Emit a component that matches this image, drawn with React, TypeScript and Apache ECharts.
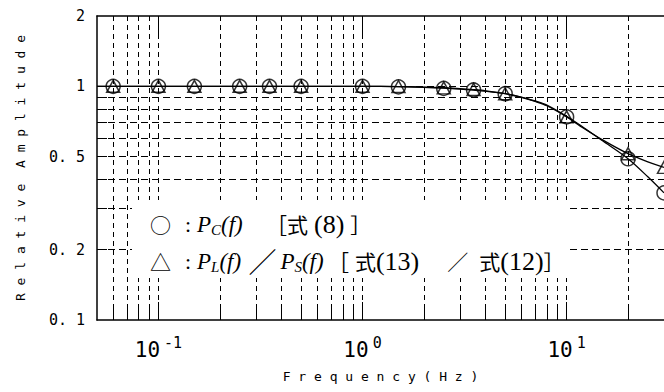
import React, { useEffect, useRef } from "react";
import * as echarts from "echarts";

// Marker data
const freqMarkers = [0.06, 0.1, 0.15, 0.25, 0.35, 0.5, 1, 1.5, 2.5, 3.5, 5, 10, 20, 30];
const pcMarkers = [1, 1, 1, 1, 1, 1, 1, 0.995, 0.98, 0.965, 0.93, 0.74, 0.49, 0.35];
const plpsMarkers = [1, 1, 1, 1, 1, 1, 1, 0.998, 0.985, 0.97, 0.93, 0.74, 0.515, 0.45];

// Theoretical curves
const curveFreq = [0.05, 0.1, 0.2, 0.5, 1, 1.5, 2, 2.5, 3, 3.5, 4, 5, 6, 7, 8, 10, 12, 15, 20, 25, 30];
const pcCurve = [1, 1, 1, 1, 1, 0.997, 0.99, 0.982, 0.973, 0.963, 0.953, 0.93, 0.9, 0.866, 0.832, 0.745, 0.67, 0.585, 0.49, 0.41, 0.35];
const plpsCurve = [1, 1, 1, 1, 1, 0.998, 0.993, 0.986, 0.978, 0.968, 0.957, 0.93, 0.898, 0.862, 0.826, 0.74, 0.665, 0.59, 0.515, 0.475, 0.45];

// Axis ticks / grid
const xGridValues = [0.06, 0.07, 0.08, 0.09, 0.1, 0.2, 0.3, 0.4, 0.5, 0.6, 0.7, 0.8, 0.9, 1, 2, 3, 4, 5, 6, 7, 8, 9, 10, 20, 30];
const xDecades = [0.1, 1, 10];
const yGridValues = [0.2, 0.3, 0.4, 0.5, 0.6, 0.7, 0.8, 0.9, 1];
const yLabelValues = [0.1, 0.2, 0.5, 1, 2];
const yLabelTexts = ["0. 1", "0. 2", "0. 5", "1", "2"];

const xTitle = "F r e q u e n c y ( H z )";
const yTitle = "R e l a t i v e  A m p l i t u d e";

const legendLine1 = "{sym|○}{g6| }{col|:}{i|P}{sub|C}{ip1|(f)}{cjk|［式}{g6| }{n|(8)}{g6| }{cjk|］}";
const legendLine2 =
  "{sym|△}{g6| }{col|:}{i|P}{sub|L}{ip2|(f)}{sl|／}{i|P}{sub|S}{ip3|(f)}{brk|［}{cjk|式}{n|(13)}{sp1| }{cjk|／}{sp2| }{cjk|式}{n|(12)}{cjk|］}";

const mono = "'DejaVu Sans Mono', monospace";
const serif = "'Liberation Serif', serif";
const cjk = "'Noto Sans CJK JP', sans-serif";

export default function App() {
  const ref = useRef<HTMLDivElement>(null);
  useEffect(() => {
    document.body.style.margin = "0";
    if (!ref.current) return;
    const chart = echarts.init(ref.current, null, { renderer: "svg" });
    const xBase = { type: "log", logBase: 10, min: 0.05, max: 30, gridIndex: 0 };
    const it = { fontFamily: serif, fontStyle: "italic", fontSize: 23, lineHeight: 26, color: "#000" };
    const legendRich = {
      sym: { fontFamily: cjk, fontSize: 21, lineHeight: 26, width: 29, color: "#000" },
      g6: { fontFamily: serif, fontSize: 22, lineHeight: 26, width: 6, color: "#000" },
      col: { fontFamily: serif, fontSize: 22, lineHeight: 26, width: 12, color: "#000" },
      n: { fontFamily: serif, fontSize: 26, lineHeight: 26, color: "#000" },
      i: { ...it },
      ip1: { ...it, width: 45 },
      ip2: { ...it, width: 29 },
      ip3: { ...it, width: 26 },
      sub: { fontFamily: serif, fontStyle: "italic", fontSize: 15, lineHeight: 14, verticalAlign: "bottom", color: "#000" },
      cjk: { fontFamily: cjk, fontSize: 21, lineHeight: 26, color: "#000" },
      brk: { fontFamily: cjk, fontSize: 21, lineHeight: 26, width: 27, color: "#000" },
      sl: { fontFamily: cjk, fontSize: 28, lineHeight: 26, width: 32, color: "#000" },
      sp1: { fontFamily: serif, fontSize: 22, lineHeight: 26, width: 28, color: "#000" },
      sp2: { fontFamily: serif, fontSize: 22, lineHeight: 26, width: 11, color: "#000" },
    };
    const option: any = {
      animation: false,
      backgroundColor: "#fff",
      grid: { left: 97, top: 16, right: -6.6, bottom: 72, containLabel: false },
      xAxis: [
        {
          ...xBase,
          position: "bottom",
          axisLine: { show: true, lineStyle: { color: "#000", width: 1.5 } },
          axisTick: { show: true, inside: true, length: 12, customValues: xGridValues, lineStyle: { color: "#000", width: 1 } },
          minorTick: { show: false },
          minorSplitLine: { show: false },
          splitLine: { show: true, lineStyle: { color: "#000", width: 1, type: [5, 4] } },
          axisLabel: {
            customValues: xDecades,
            margin: 18,
            formatter: (v: number) => `{b|10}{s|${Math.round(Math.log10(v))}}`,
            rich: {
              b: { fontFamily: mono, fontSize: 21, lineHeight: 24, color: "#000" },
              s: { fontFamily: mono, fontSize: 15, lineHeight: 14, padding: [0, 0, 14, 4], color: "#000" },
            },
          },
          name: xTitle,
          nameLocation: "middle",
          nameGap: 50,
          nameTextStyle: { fontFamily: mono, fontSize: 13, color: "#000" },
        },
        {
          ...xBase,
          position: "top",
          axisLine: { show: true, lineStyle: { color: "#000", width: 1.5 } },
          axisTick: { show: true, inside: true, length: 22, customValues: xDecades, lineStyle: { color: "#000", width: 1 } },
          axisLabel: { show: false },
          splitLine: { show: false },
        },
        {
          ...xBase,
          position: "bottom",
          axisLine: { show: false },
          axisTick: { show: true, inside: true, length: 18, customValues: xDecades, lineStyle: { color: "#000", width: 1 } },
          axisLabel: { show: false },
          splitLine: { show: false },
        },
      ],
      yAxis: {
        type: "log",
        logBase: 10,
        min: 0.1,
        max: 2,
        axisLine: { show: true, lineStyle: { color: "#000", width: 1.5 } },
        axisTick: { show: true, inside: true, length: 10, customValues: yGridValues, lineStyle: { color: "#000", width: 1 } },
        minorTick: { show: false },
        splitLine: { show: true, lineStyle: { color: "#000", width: 1, type: [7, 4] } },
        axisLabel: {
          customValues: yLabelValues,
          margin: 12,
          fontFamily: mono,
          fontSize: 15,
          color: "#000",
          formatter: (v: number) => {
            const i = yLabelValues.findIndex((u) => Math.abs(u - v) < 1e-6);
            return i >= 0 ? yLabelTexts[i] : "";
          },
        },
        name: yTitle,
        nameLocation: "middle",
        nameRotate: 90,
        nameGap: 70,
        nameTextStyle: { fontFamily: mono, fontSize: 13, color: "#000" },
      },
      series: [
        {
          type: "line",
          xAxisIndex: 0,
          yAxisIndex: 0,
          data: curveFreq.map((f, i) => [f, pcCurve[i]]),
          symbol: "none",
          showSymbol: false,
          smooth: 0.3,
          lineStyle: { color: "#000", width: 1.3 },
          z: 3,
          silent: true,
        },
        {
          type: "line",
          xAxisIndex: 0,
          yAxisIndex: 0,
          data: curveFreq.map((f, i) => [f, plpsCurve[i]]),
          symbol: "none",
          showSymbol: false,
          smooth: 0.3,
          lineStyle: { color: "#000", width: 1.3 },
          z: 3,
          silent: true,
        },
        {
          type: "scatter",
          xAxisIndex: 0,
          yAxisIndex: 0,
          data: freqMarkers.map((f, i) => [f, pcMarkers[i]]),
          symbol: "circle",
          symbolSize: 14,
          itemStyle: { color: "rgba(0,0,0,0)", borderColor: "#000", borderWidth: 1.5 },
          z: 4,
          silent: true,
        },
        {
          type: "scatter",
          xAxisIndex: 0,
          yAxisIndex: 0,
          data: freqMarkers.map((f, i) => [f, plpsMarkers[i]]),
          symbol: "triangle",
          symbolSize: [13, 12],
          itemStyle: { color: "rgba(0,0,0,0)", borderColor: "#000", borderWidth: 1.5 },
          z: 5,
          silent: true,
        },
      ],
      graphic: [
        { type: "rect", z: 50, silent: true, shape: { x: 132, y: 200, width: 438, height: 78 }, style: { fill: "#fff" } },
        { type: "text", z: 51, x: 150, y: 224, style: { text: legendLine1, rich: legendRich, verticalAlign: "middle", align: "left", fill: "#000" } },
        { type: "text", z: 51, x: 150, y: 261, style: { text: legendLine2, rich: legendRich, verticalAlign: "middle", align: "left", fill: "#000" } },
      ],
    };
    chart.setOption(option);
    return () => chart.dispose();
  }, []);
  return <div ref={ref} style={{ width: 664, height: 392 }} />;
}
